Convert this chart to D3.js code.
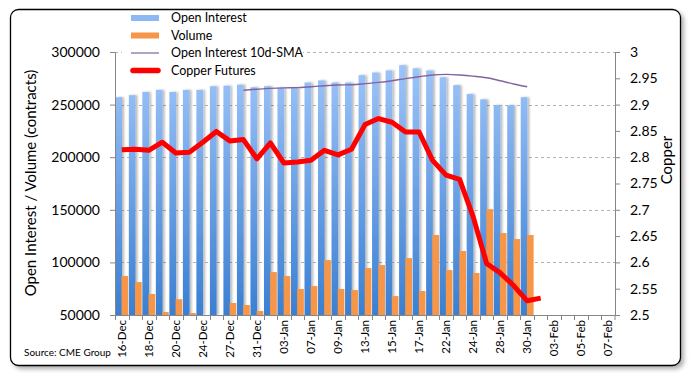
<!DOCTYPE html>
<html>
<head>
<meta charset="utf-8">
<script src="https://cdn.jsdelivr.net/npm/d3@7"></script>
<style>
  body { margin: 0; background: #fff; }
  text { font-family: Lato, "Open Sans", sans-serif; fill: #000; }
</style>
</head>
<body>
<div id="chart"></div>
<script>
var dates = ["16-Dec","17-Dec","18-Dec","19-Dec","20-Dec","23-Dec","24-Dec","26-Dec","27-Dec","30-Dec",
  "31-Dec","02-Jan","03-Jan","06-Jan","07-Jan","08-Jan","09-Jan","10-Jan","13-Jan","14-Jan",
  "15-Jan","16-Jan","17-Jan","21-Jan","22-Jan","23-Jan","24-Jan","27-Jan","28-Jan","29-Jan",
  "30-Jan","31-Jan","03-Feb","04-Feb","05-Feb","06-Feb","07-Feb"];

var openInterest = [257000, 259000, 262000, 264000, 262000, 264000, 264000, 267500, 268000, 269000,
  266500, 267500, 266000, 266000, 271000, 273000, 271000, 271000, 278000, 280500,
  282500, 287500, 284500, 282500, 276000, 268500, 260000, 255000, 249500, 249500, 257000];

var volume = [87000, 81300, 70000, 52800, 65000, 51900, null, null, 61400, 59500,
  53800, 90800, 87000, 74700, 77500, 102200, 74700, 73700, 94600, 97500,
  68000, 104100, 72800, 126000, 92700, 110800, 89900, 150600, 127900, 122200, 126000];

// 10d-SMA starts at 30-Dec
var smaStart = 9;
var oiSma = [263700, 264600, 265400, 265900, 266100, 267000, 267900, 268600, 268900, 269900,
  271100, 272700, 274700, 276500, 278200, 278700, 278200, 277100, 275500, 272700, 269600, 267000];

var copper = [2.814, 2.815, 2.813, 2.8285, 2.808, 2.8095, 2.8285, 2.849, 2.831, 2.8335,
  2.797, 2.827, 2.789, 2.791, 2.794, 2.813, 2.8045, 2.815, 2.862, 2.8735,
  2.8665, 2.848, 2.848, 2.794, 2.766, 2.758, 2.687, 2.598, 2.580, 2.556, 2.527, 2.532];

var leftTicks = [50000, 100000, 150000, 200000, 250000, 300000];
var rightTicks = [2.5, 2.55, 2.6, 2.65, 2.7, 2.75, 2.8, 2.85, 2.9, 2.95, 3];

var W = 692, H = 376;
var plot = { left: 115, right: 615, top: 52, bottom: 315 };

var svg = d3.select("#chart").append("svg")
  .attr("width", W).attr("height", H);

var defs = svg.append("defs");
var grad = defs.append("linearGradient").attr("id", "blueGrad")
  .attr("x1", 0).attr("y1", 0).attr("x2", 0).attr("y2", 1)
  .attr("gradientUnits", "userSpaceOnUse")
  .attr("y1", plot.top).attr("y2", plot.bottom);
grad.append("stop").attr("offset", "0%").attr("stop-color", "#a3c8fb");
grad.append("stop").attr("offset", "100%").attr("stop-color", "#3a7fd2");

var shadow = defs.append("filter").attr("id", "barShadow")
  .attr("x", "-50%").attr("y", "-10%").attr("width", "200%").attr("height", "120%");
shadow.append("feDropShadow").attr("dx", 2).attr("dy", 0).attr("stdDeviation", 1)
  .attr("flood-color", "#000").attr("flood-opacity", 0.28);

var frameShadow = defs.append("filter").attr("id", "frameShadow")
  .attr("x", "-5%").attr("y", "-5%").attr("width", "110%").attr("height", "110%");
frameShadow.append("feDropShadow").attr("dx", 3).attr("dy", 3).attr("stdDeviation", 2)
  .attr("flood-color", "#000").attr("flood-opacity", 0.3);

defs.append("clipPath").attr("id", "plotClip").append("rect")
  .attr("x", plot.left).attr("y", plot.top)
  .attr("width", plot.right - plot.left).attr("height", plot.bottom - plot.top);

// chart frame
svg.append("rect")
  .attr("x", 10.5).attr("y", 9.5).attr("width", 670).attr("height", 356)
  .attr("rx", 8)
  .attr("fill", "#fff").attr("stroke", "#000").attr("stroke-width", 1.3)
  .attr("filter", "url(#frameShadow)");

var x = d3.scaleBand().domain(dates).range([plot.left, plot.right]).paddingInner(0).paddingOuter(0);
var sub = d3.scaleBand().domain(["oi", "vol"]).range([0, x.bandwidth()]).paddingInner(-0.08).paddingOuter(0.05);
var yL = d3.scaleLinear().domain([50000, 300000]).range([plot.bottom, plot.top]);
var yR = d3.scaleLinear().domain([2.5, 3]).range([plot.bottom, plot.top]);

// gridlines
svg.append("g").selectAll("line")
  .data(leftTicks.slice(1))
  .join("line")
  .attr("x1", plot.left).attr("x2", plot.right)
  .attr("y1", function(d) { return Math.round(yL(d)) + 0.5; })
  .attr("y2", function(d) { return Math.round(yL(d)) + 0.5; })
  .attr("stroke", "#b3b3b3").attr("stroke-width", 1)
  .attr("stroke-dasharray", "3,3");

var plotG = svg.append("g").attr("clip-path", "url(#plotClip)");

// open interest bars
plotG.append("g").selectAll("rect")
  .data(openInterest)
  .join("rect")
  .attr("x", function(d, i) { return x(dates[i]) + sub("oi"); })
  .attr("width", sub.bandwidth())
  .attr("y", function(d) { return yL(d); })
  .attr("height", function(d) { return plot.bottom - yL(d); })
  .attr("fill", "url(#blueGrad)")
  .attr("filter", "url(#barShadow)");

// volume bars
plotG.append("g").selectAll("rect")
  .data(volume.map(function(v, i) { return { v: v, d: dates[i] }; }).filter(function(o) { return o.v != null; }))
  .join("rect")
  .attr("x", function(o) { return x(o.d) + sub("vol"); })
  .attr("width", sub.bandwidth())
  .attr("y", function(o) { return yL(o.v); })
  .attr("height", function(o) { return plot.bottom - yL(o.v); })
  .attr("fill", "#f79646");

// SMA line
var smaLine = d3.line()
  .curve(d3.curveMonotoneX)
  .x(function(d, i) { return x(dates[i + smaStart]) + x.bandwidth() / 2; })
  .y(function(d) { return yL(d); });
svg.append("path")
  .datum(oiSma)
  .attr("fill", "none")
  .attr("stroke", "#8064a2")
  .attr("stroke-width", 1.4)
  .attr("d", smaLine);

// copper line
var cuLine = d3.line()
  .x(function(d, i) { return x(dates[i]) + x.bandwidth() / 2; })
  .y(function(d) { return yR(d); });
svg.append("path")
  .datum(copper)
  .attr("fill", "none")
  .attr("stroke", "#ff0000")
  .attr("stroke-width", 5)
  .attr("stroke-linejoin", "round")
  .attr("d", cuLine);

// left axis
var axL = svg.append("g")
  .attr("transform", "translate(" + plot.left + ",0)")
  .call(d3.axisLeft(yL).tickValues(leftTicks).tickSize(5).tickPadding(10).tickFormat(d3.format("d")));
axL.select(".domain").attr("stroke", "#868686");
axL.selectAll(".tick line").attr("stroke", "#868686");
axL.selectAll("text").style("font-size", "14px").attr("fill", "#000");

// right axis
var axR = svg.append("g")
  .attr("transform", "translate(" + plot.right + ",0)")
  .call(d3.axisRight(yR).tickValues(rightTicks).tickSize(5).tickPadding(10)
    .tickFormat(function(d) { return String(+d.toFixed(2)); }));
axR.select(".domain").attr("stroke", "#868686");
axR.selectAll(".tick line").attr("stroke", "#868686");
axR.selectAll("text").style("font-size", "14px").attr("fill", "#000");

// bottom axis
var axB = svg.append("g");
axB.append("line")
  .attr("x1", plot.left).attr("x2", plot.right)
  .attr("y1", plot.bottom + 0.5).attr("y2", plot.bottom + 0.5)
  .attr("stroke", "#868686");
axB.selectAll(".bt")
  .data(dates.concat(["end"]))
  .join("line")
  .attr("class", "bt")
  .attr("x1", function(d) { return d === "end" ? plot.right : Math.round(x(d)) + 0.5; })
  .attr("x2", function(d) { return d === "end" ? plot.right : Math.round(x(d)) + 0.5; })
  .attr("y1", plot.bottom).attr("y2", plot.bottom + 5)
  .attr("stroke", "#868686");
axB.selectAll(".lbl")
  .data(dates.filter(function(d, i) { return i % 2 === 0; }))
  .join("text")
  .attr("class", "lbl")
  .attr("transform", function(d) {
    return "translate(" + (x(d) + x.bandwidth() / 2) + "," + (plot.bottom + 5) + ") rotate(-90)";
  })
  .attr("text-anchor", "end")
  .attr("dy", "0.35em")
  .style("font-size", "11.5px")
  .text(function(d) { return d; });

// axis titles
svg.append("text")
  .attr("transform", "translate(36,183) rotate(-90)")
  .attr("text-anchor", "middle")
  .style("font-size", "15px")
  .text("Open Interest / Volume (contracts)");
svg.append("text")
  .attr("transform", "translate(672,160) rotate(-90)")
  .attr("text-anchor", "middle")
  .style("font-size", "15px")
  .text("Copper");

// legend
var legend = svg.append("g");
legend.append("rect")
  .attr("x", 122).attr("y", 11).attr("width", 181).attr("height", 68)
  .attr("fill", "#fff");
var items = [
  { name: "Open Interest", type: "bar", color: "#8db8f5" },
  { name: "Volume", type: "bar", color: "#f79646" },
  { name: "Open Interest 10d-SMA", type: "thin", color: "#8064a2" },
  { name: "Copper Futures", type: "thick", color: "#ff0000" }
];
var li = legend.selectAll(".li").data(items).join("g")
  .attr("class", "li")
  .attr("transform", function(d, i) { return "translate(131," + (18 + i * 17.5) + ")"; });
li.filter(function(d) { return d.type === "bar"; }).append("rect")
  .attr("x", 0).attr("y", -3).attr("width", 28).attr("height", 6)
  .attr("fill", function(d) { return d.color; });
li.filter(function(d) { return d.type === "thin"; }).append("line")
  .attr("x1", 0).attr("x2", 28).attr("y1", 0).attr("y2", 0)
  .attr("stroke", function(d) { return d.color; }).attr("stroke-width", 1.2);
li.filter(function(d) { return d.type === "thick"; }).append("line")
  .attr("x1", 2).attr("x2", 27).attr("y1", 0).attr("y2", 0)
  .attr("stroke", function(d) { return d.color; }).attr("stroke-width", 5.5)
  .attr("stroke-linecap", "round");
li.append("text")
  .attr("x", 40).attr("dy", "0.35em")
  .style("font-size", "12.5px")
  .text(function(d) { return d.name; });

// source
svg.append("text")
  .attr("x", 24).attr("y", 356)
  .style("font-size", "10px")
  .text("Source: CME Group");
</script>
</body>
</html>
